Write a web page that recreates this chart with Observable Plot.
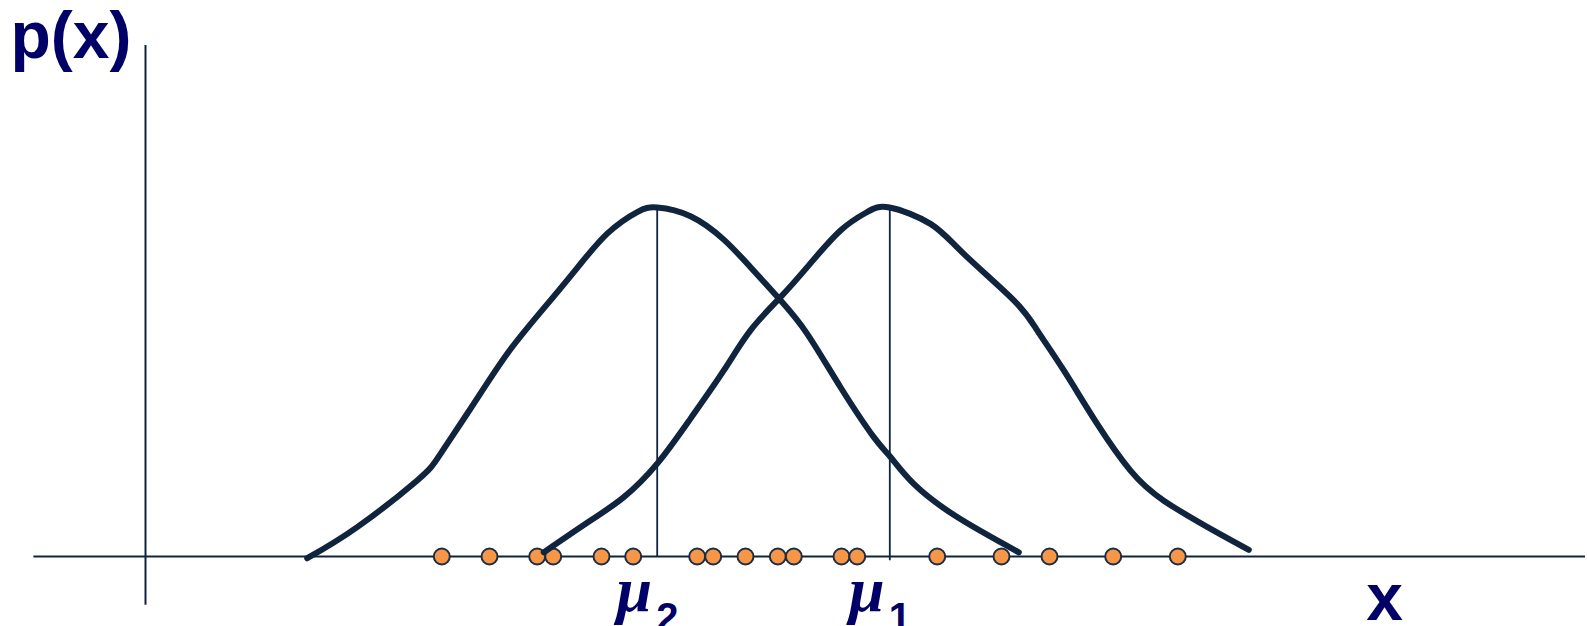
<!DOCTYPE html>
<html>
<head>
<meta charset="utf-8">
<script src="https://cdn.jsdelivr.net/npm/d3@7"></script>
<script src="https://cdn.jsdelivr.net/npm/@observablehq/plot@0.6"></script>
<style>
  html, body { margin: 0; padding: 0; background: #ffffff; overflow: hidden; }
  #chart svg { display: block; }
</style>
</head>
<body>
<div id="chart"></div>
<script>
// Curve for cluster 2 (left)
const curve2X = [1.617, 2.117, 2.717, 2.95, 3.283, 3.617, 3.95, 4.283, 4.617, 4.917, 5.117, 5.45, 5.783, 6.05, 6.35, 6.617, 6.95, 7.283, 7.45, 7.683, 8.117, 8.733];
const curve2Y = [-0.005, 0.084, 0.218, 0.294, 0.438, 0.581, 0.700, 0.815, 0.925, 0.987, 1.0, 0.975, 0.908, 0.829, 0.734, 0.638, 0.485, 0.342, 0.285, 0.208, 0.113, 0.012];
// Curve for cluster 1 (right)
const curve1X = [3.983, 4.45, 4.783, 5.117, 5.45, 5.783, 6.05, 6.35, 6.617, 6.95, 7.217, 7.44, 7.85, 8.183, 8.683, 8.917, 9.183, 9.517, 9.85, 10.183, 10.683, 11.033];
const curve1Y = [0.012, 0.103, 0.170, 0.266, 0.395, 0.533, 0.648, 0.743, 0.829, 0.934, 0.987, 1.0, 0.953, 0.867, 0.734, 0.648, 0.533, 0.380, 0.246, 0.160, 0.074, 0.019];
// Sample points on the x axis
const samples = [2.963, 3.44, 3.917, 4.077, 4.56, 4.877, 5.517, 5.677, 6.0, 6.323, 6.483, 6.96, 7.117, 7.917, 8.56, 9.04, 9.677, 10.323];
// Means
const means = [5.117, 7.443];
const meanNames = ["μ", "μ"];
const meanSubs = ["2", "1"];
const meanLineBottom = [0, -0.012];
const peak = 1.0;
// Axes extents
const xAxisExtent = [-1.116, 14.4];
const yAxisExtent = [-0.140, 1.464];
const yLabel = "p(x)";
const xLabel = "x";

const navy = "#10243e";
const textNavy = "#000066";

const c2 = curve2X.map((x, i) => ({x, y: curve2Y[i]}));
const c1 = curve1X.map((x, i) => ({x, y: curve1Y[i]}));
const meanRows = means.map((m, i) => ({x: m, name: meanNames[i], sub: meanSubs[i], y1: meanLineBottom[i], y2: peak}));

const chart = Plot.plot({
  width: 1587,
  height: 626,
  margin: 0,
  x: {domain: [-1.45, 14.42], axis: null},
  y: {domain: [-0.2006, 1.5931], axis: null},
  style: {background: "#ffffff", overflow: "hidden"},
  marks: [
    Plot.ruleY([0], {x1: xAxisExtent[0], x2: xAxisExtent[1], stroke: navy, strokeWidth: 2}),
    Plot.ruleX([0], {y1: yAxisExtent[0], y2: yAxisExtent[1], stroke: navy, strokeWidth: 2}),
    Plot.ruleX(meanRows, {x: "x", y1: "y1", y2: "y2", stroke: navy, strokeWidth: 1.8}),
    Plot.dot(samples, {x: d => d, y: () => 0, r: 8, fill: "#f79646", stroke: "#1c2d44", strokeWidth: 2}),
    Plot.line(c2, {x: "x", y: "y", curve: "natural", stroke: navy, strokeWidth: 6}),
    Plot.line(c1, {x: "x", y: "y", curve: "natural", stroke: navy, strokeWidth: 6}),
    Plot.text([yLabel], {x: () => -1.35, y: () => 1.427, text: d => d, textAnchor: "start", lineAnchor: "bottom",
      fontFamily: "Liberation Sans", fontWeight: "bold", fontSize: 66, fill: textNavy}),
    Plot.text([xLabel], {x: () => 12.39, y: () => -0.183, text: d => d, textAnchor: "middle", lineAnchor: "bottom",
      fontFamily: "Liberation Sans", fontWeight: "bold", fontSize: 66, fill: textNavy}),
    Plot.text(meanRows, {x: "x", y: () => -0.155, text: "name", dx: -23, textAnchor: "middle", lineAnchor: "bottom",
      fontFamily: "Liberation Serif", fontStyle: "italic", fontWeight: "bold", fontSize: 64, fill: textNavy}),
    Plot.text(meanRows, {x: "x", y: () => -0.213, text: "sub", dx: -1, textAnchor: "start", lineAnchor: "bottom",
      fontFamily: "Liberation Sans", fontWeight: "bold", fontSize: 40, fill: textNavy})
  ]
});
document.getElementById("chart").appendChild(chart);
</script>
</body>
</html>
